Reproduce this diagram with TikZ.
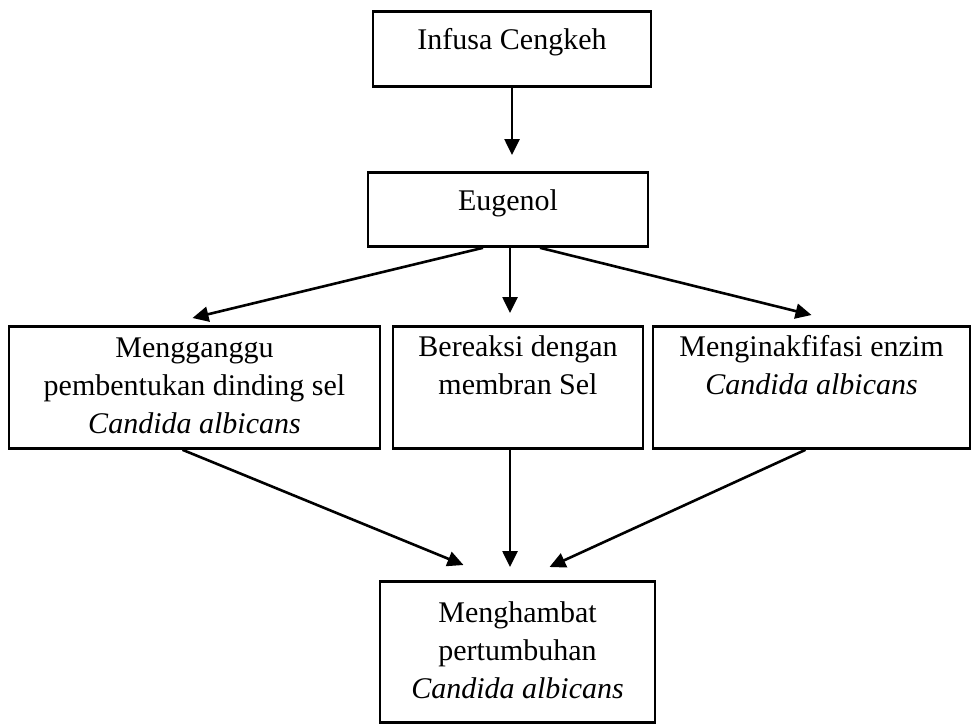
\documentclass[tikz,border=0pt]{standalone}
\usepackage{fontspec}
\setmainfont{Liberation Serif}
\usetikzlibrary{arrows.meta}

\begin{document}
\begin{tikzpicture}[x=0.5pt, y=-0.5pt,
  box/.style = {draw, line width=1.4pt, inner sep=0pt, align=center, anchor=north, font=\fontsize{15}{19}\selectfont},
  twoline/.style = {text height=34pt, text depth=27pt},
  arr/.style = {line width=1.3pt, -{Triangle[length=8pt,width=7.5pt]}}]
\useasboundingbox (0,0) rectangle (973,724);
\node[box, minimum width=139pt, text height=19pt, text depth=18.5pt] (infusa) at (512,10) {Infusa Cengkeh};
\node[box, minimum width=140pt, text height=19pt, text depth=18pt] (eugenol) at (508,171) {Eugenol};
\node[box, minimum width=185.5pt, text height=53.5pt, text depth=7.5pt] (ganggu) at (194.5,325) {Mengganggu\\pembentukan dinding sel\\\textit{Candida albicans}};
\node[box, twoline, minimum width=125pt] (reaksi) at (518,325) {Bereaksi dengan\\membran Sel};
\node[box, twoline, minimum width=158.5pt] (inaktif) at (811.5,325) {Menginakfifasi enzim\\\textit{Candida albicans}};
\node[box, minimum width=137.5pt, text height=58.5pt, text depth=12pt] (hambat) at (517.5,580) {Menghambat\\pertumbuhan\\\textit{Candida albicans}};

\draw[arr] (infusa.south) -- ([yshift=8pt]infusa.south |- eugenol.north);
\draw[arr] ([xshift=-12.5pt]eugenol.south) -- ([xshift=-1pt, yshift=3.5pt]ganggu.north);
\draw[arr] ([xshift=1pt]eugenol.south) -- ([xshift=1pt, yshift=6pt]eugenol.south |- reaksi.north);
\draw[arr] ([xshift=16pt]eugenol.south) -- ([yshift=5pt]inaktif.north);
\draw[arr] ([xshift=-6pt]ganggu.south) -- ([xshift=-27pt, yshift=7.5pt]hambat.north);
\draw[arr] ([xshift=1pt]eugenol.south |- reaksi.south) -- ([xshift=1pt, yshift=6.5pt]eugenol.south |- hambat.north);
\draw[arr] ([xshift=-3pt]inaktif.south) -- ([xshift=16pt, yshift=6.5pt]hambat.north);
\end{tikzpicture}
\end{document}
